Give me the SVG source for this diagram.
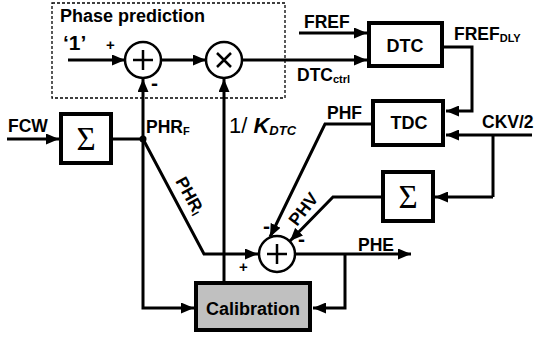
<svg xmlns="http://www.w3.org/2000/svg" width="539" height="338" viewBox="0 0 539 338">
<defs>
<marker id="ah" markerUnits="userSpaceOnUse" markerWidth="13" markerHeight="11" refX="13" refY="5.5" orient="auto">
<path d="M0,0 L13,5.5 L0,11 z" fill="#000"/>
</marker>
<style>
.c{fill:none;stroke:#000;stroke-width:3;stroke-linejoin:miter}
.a{marker-end:url(#ah)}
.box{fill:#fff;stroke:#000;stroke-width:4}
.circ{fill:#fff;stroke:#000;stroke-width:2.5}
.sym{stroke:#000;stroke-width:2.5;fill:none}
text{font-family:"Liberation Sans",Arial,sans-serif;font-weight:bold;fill:#000}
.l{font-size:17.5px}
.s{font-size:11px}
.m{font-size:21px}
.sig{font-family:"Liberation Serif","Times New Roman",serif;font-weight:normal;font-size:33px}
</style>
</defs>
<rect x="52" y="3" width="233" height="95" fill="none" stroke="#000" stroke-width="1.3" stroke-dasharray="3,2"/>
<g id="connectors">
<path class="c a" d="M7,139 H59"/>
<path class="c" d="M111,139 H143"/>
<path class="c a" d="M143,139 V79"/>
<path class="c a" d="M143,139 V308 H194"/>
<path class="c a" d="M143,139 L204,254 H258"/>
<path class="c a" d="M68,60 H125"/>
<path class="c a" d="M161,60 H206"/>
<path class="c a" d="M242,60 H367"/>
<path class="c a" d="M299,33 H367"/>
<path class="c a" d="M443,47 H472 V111 H446"/>
<path class="c a" d="M532,135 H446"/>
<path class="c" d="M493,135 V197"/>
<path class="c a" d="M493,197 H435"/>
<path class="c a" d="M372,124 H325 L270,237"/>
<path class="c a" d="M382,197 H333 L290,241"/>
<path class="c a" d="M296,254 H411"/>
<path class="c a" d="M345,254 V308 H313"/>
<path class="c a" d="M224,282 V79"/>
<circle cx="143" cy="139" r="3.5" fill="#000"/>
</g>
<g id="phase-prediction-label">
<text x="60" y="22" style="font-size:18px">Phase prediction</text>
<text x="63" y="50" style="font-size:21px">‘1’</text>
<text x="106" y="50" style="font-size:15px">+</text>
<text class="m" x="151" y="90">-</text>
</g>
<g id="adder1">
<circle class="circ" cx="143" cy="60" r="18"/>
<path class="sym" d="M133,60 H153 M143,50 V70"/>
</g>
<g id="mult">
<circle class="circ" cx="224" cy="60" r="18"/>
<path class="sym" d="M217,53 L231,67 M231,53 L217,67"/>
</g>
<g id="dtc">
<rect class="box" x="369" y="23" width="73" height="43"/>
<text x="405" y="52" text-anchor="middle" style="font-size:18px">DTC</text>
</g>
<g id="tdc">
<rect class="box" x="373" y="101" width="70" height="44"/>
<text x="409" y="129" text-anchor="middle" style="font-size:18px">TDC</text>
</g>
<g id="sigma1">
<rect class="box" x="61" y="114" width="50" height="49"/>
<text class="sig" x="86" y="150" text-anchor="middle">Σ</text>
</g>
<g id="sigma2">
<rect class="box" x="383" y="172" width="50" height="49"/>
<text class="sig" x="408" y="208" text-anchor="middle">Σ</text>
</g>
<g id="adder3">
<circle class="circ" cx="277" cy="254" r="18"/>
<path class="sym" d="M267,254 H287 M277,244 V264"/>
<text class="m" x="263" y="233">-</text>
<text class="m" x="298" y="246">-</text>
<text x="239" y="272" style="font-size:15px">+</text>
</g>
<g id="calibration">
<rect x="196" y="283" width="114" height="47" fill="#c0c0c0" stroke="#000" stroke-width="4"/>
<text x="253" y="315" text-anchor="middle" style="font-size:18px">Calibration</text>
</g>
<g id="labels">
<text class="l" x="304" y="28">FREF</text>
<text class="l" x="297" y="81">DTC<tspan class="s" dy="2">ctrl</tspan></text>
<text class="l" x="454" y="40">FREF<tspan class="s" dy="2">DLY</tspan></text>
<text class="l" x="482" y="128">CKV/2</text>
<text class="l" x="327" y="119">PHF</text>
<text class="l" x="8" y="132">FCW</text>
<text class="l" x="146" y="133">PHR<tspan class="s" dy="2">F</tspan></text>
<text x="229" y="133" style="font-size:22px;font-weight:normal">1/ <tspan style="font-weight:bold;font-style:italic">K</tspan><tspan style="font-size:13px;font-weight:bold;font-style:italic" dy="2">DTC</tspan></text>
<text class="l" transform="translate(175,181) rotate(61)">PHR<tspan class="s" dy="2">I</tspan></text>
<text class="l" transform="translate(297,227) rotate(-52)">PHV</text>
<text class="l" x="358" y="251">PHE</text>
</g>
</svg>
